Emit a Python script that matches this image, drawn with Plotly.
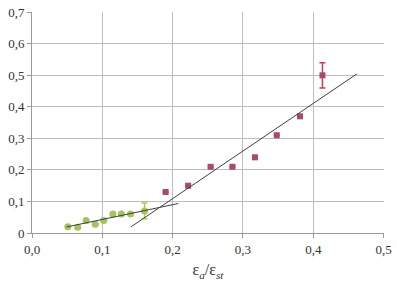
import plotly.graph_objects as go
import numpy as np

# Green series (circles)
green_x = [0.051, 0.065, 0.077, 0.090, 0.102, 0.115, 0.127, 0.140, 0.160]
green_y = [0.020, 0.018, 0.040, 0.028, 0.040, 0.060, 0.060, 0.060, 0.070]
green_err = [0, 0, 0, 0, 0, 0, 0, 0, 0.025]

# Red series (squares)
red_x = [0.190, 0.222, 0.254, 0.285, 0.317, 0.348, 0.381, 0.413]
red_y = [0.130, 0.150, 0.210, 0.210, 0.240, 0.310, 0.370, 0.500]
red_err = [0, 0, 0, 0, 0, 0, 0, 0.040]

# Trend lines (slope, intercept, x-range)
green_trend = {"slope": 0.468, "intercept": -0.0038, "x": [0.049, 0.208]}
red_trend = {"slope": 1.51, "intercept": -0.193, "x": [0.141, 0.462]}

x_ticks = [0.0, 0.1, 0.2, 0.3, 0.4, 0.5]
x_tick_labels = ["0,0", "0,1", "0,2", "0,3", "0,4", "0,5"]
y_ticks = [0, 0.1, 0.2, 0.3, 0.4, 0.5, 0.6, 0.7]
y_tick_labels = ["0", "0,1", "0,2", "0,3", "0,4", "0,5", "0,6", "0,7"]

GREEN = "#a3c45c"
GREEN_ERR = "#a8d040"
RED = "#a94a68"
RED_ERR = "#c0404f"
LINE = "#404040"
SERIF = "Times New Roman, Liberation Serif, serif"

fig = go.Figure()

fig.add_trace(go.Scatter(
    x=green_x, y=green_y, mode="markers",
    marker=dict(symbol="circle", size=7, color=GREEN),
    error_y=dict(type="data", array=green_err, visible=True, color=GREEN_ERR,
                 thickness=1.5, width=3),
    showlegend=False))

fig.add_trace(go.Scatter(
    x=red_x, y=red_y, mode="markers",
    marker=dict(symbol="square", size=6, color=RED),
    error_y=dict(type="data", array=red_err, visible=True, color=RED_ERR,
                 thickness=1.5, width=3),
    showlegend=False))

for tr in (green_trend, red_trend):
    xs = np.array(tr["x"])
    ys = tr["slope"] * xs + tr["intercept"]
    fig.add_trace(go.Scatter(x=xs, y=ys, mode="lines",
                             line=dict(color=LINE, width=1), showlegend=False,
                             hoverinfo="skip"))

font = dict(family=SERIF, size=13, color="#333333")

fig.update_layout(
    width=397, height=286,
    margin=dict(l=32, r=9, t=5, b=53),
    plot_bgcolor="white", paper_bgcolor="white",
    font=font,
    xaxis=dict(range=[0, 0.5005], tickvals=x_ticks, ticktext=x_tick_labels,
               tickfont=dict(family=SERIF, size=13, color="#333333"),
               ticklabeloverflow="allow",
               showgrid=True, gridcolor="#bdbdbd", gridwidth=1,
               zeroline=False, showline=True, linecolor="#9a9a9a",
               ticks="outside", ticklen=4, tickcolor="#9a9a9a",
               title=dict(text="ε<sub><i>a</i></sub>/ε<sub><i>st</i></sub>",
                          font=dict(family=SERIF, size=16, color="#333333"),
                          standoff=8)),
    yaxis=dict(range=[0, 0.7008], tickvals=y_ticks, ticktext=y_tick_labels,
               tickfont=dict(family=SERIF, size=13, color="#333333"),
               ticklabeloverflow="allow",
               showgrid=True, gridcolor="#bdbdbd", gridwidth=1,
               zeroline=False, showline=True, linecolor="#9a9a9a",
               ticks="outside", ticklen=4, tickcolor="#9a9a9a"),
)

fig.write_html("out.html", config={"displayModeBar": False},
               post_script="document.body.style.margin='0';document.body.style.padding='0';")
